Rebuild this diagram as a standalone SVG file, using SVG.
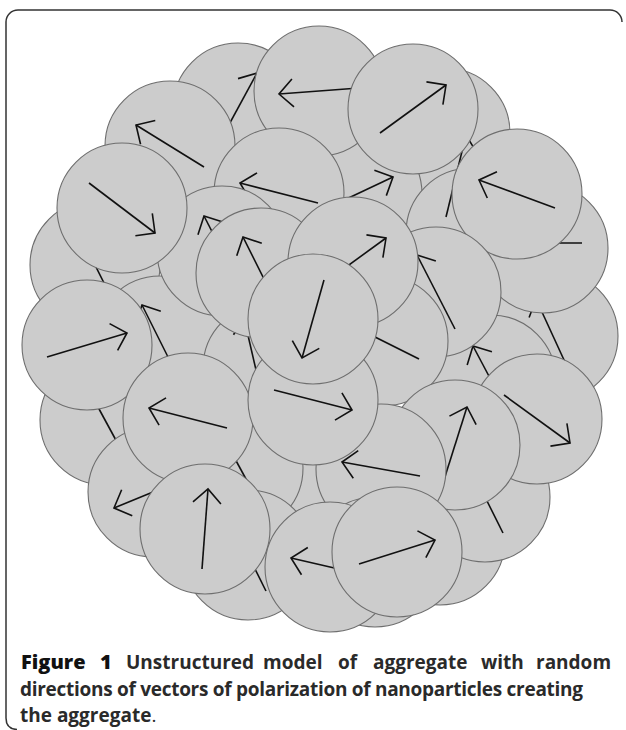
<svg xmlns="http://www.w3.org/2000/svg" width="626" height="730" viewBox="0 0 626 730">
  <defs>
    <!-- open V head for polarization vectors -->
    <marker id="head" markerUnits="userSpaceOnUse" viewBox="-16 -16 18 32" refX="0" refY="0" markerWidth="18" markerHeight="32" orient="auto" overflow="visible">
      <path d="M-14,-14 L0,0 L-14,14" fill="none" stroke="#111" stroke-width="1.6"/>
    </marker>
  </defs>
  <style>
    .p circle { fill: #cccccc; stroke: #6e6e6e; stroke-width: 1.1; }
    .p line { stroke: #111; stroke-width: 1.6; fill: none; marker-end: url(#head); }
    .frame { fill: none; stroke: #333; stroke-width: 1.5; }
    .cap { font-family: "Open Sans", "Liberation Sans", sans-serif; font-size: 19px; font-weight: 700; fill: #2a2a2a; }
    .fig { font-size: 20px; font-weight: 800; fill: #111; }
    .dot { font-weight: 400; }
  </style>

  <rect width="626" height="730" fill="#ffffff"/>
  <path class="frame" d="M6,718 L6,22 A12,12 0 0 1 18,10 L610,10 A12,12 0 0 1 622,22"/>
  <path class="frame" d="M6,718 Q6,729 17,729.5"/>

  <!-- nanoparticles, back to front -->
  <g id="particles">
    <g id="p-l0" class="p"><circle cx="95" cy="265" r="65"/><line x1="113" y1="301" x2="77" y2="229"/></g>
    <g id="p-l3" class="p"><circle cx="105" cy="420" r="65"/><line x1="86" y1="385" x2="124" y2="455"/></g>
    <g id="p-a" class="p"><circle cx="238" cy="108" r="65"/><line x1="219" y1="143" x2="257" y2="73"/></g>
    <g id="p-t3" class="p"><circle cx="445" cy="133" r="65"/></g>
    <g id="p-e" class="p"><circle cx="357" cy="194" r="65"/><line x1="321" y1="211" x2="393" y2="177"/></g>
    <g id="p-t1" class="p"><circle cx="319" cy="91" r="65"/><line x1="359" y1="88" x2="279" y2="94"/></g>
    <g id="p-b" class="p"><circle cx="170" cy="146" r="65"/><line x1="204" y1="167" x2="136" y2="125"/></g>
    <g id="p-d" class="p"><circle cx="279" cy="193" r="65"/><line x1="318" y1="203" x2="240" y2="183"/></g>
    <g id="p-l2" class="p"><circle cx="160" cy="341" r="65"/><line x1="178" y1="377" x2="142" y2="305"/></g>
    <g id="p-q1" class="p"><circle cx="222" cy="251" r="65"/><line x1="240" y1="286" x2="204" y2="216"/></g>
    <g id="p-c" class="p"><circle cx="122" cy="208" r="65"/><line x1="89" y1="183" x2="155" y2="233"/></g>
    <g id="p-m3" class="p"><circle cx="268" cy="368" r="65"/><line x1="262" y1="396" x2="244" y2="318"/></g>
    <g id="p-q2" class="p"><circle cx="261" cy="273" r="65"/><line x1="279" y1="309" x2="243" y2="237"/></g>
    <g id="p-g" class="p"><circle cx="471" cy="233" r="65"/><line x1="446" y1="217" x2="466" y2="135"/></g>
    <g id="p-t2" class="p"><circle cx="413" cy="109" r="65"/><line x1="380" y1="133" x2="446" y2="85"/></g>
    <g id="p-rv" class="p"><circle cx="553" cy="336" r="65"/><line x1="570" y1="373" x2="536" y2="299"/></g>
    <g id="p-ru" class="p"><circle cx="543" cy="248" r="65"/><line x1="582" y1="243" x2="498" y2="243"/></g>
    <g id="p-rt" class="p"><circle cx="517" cy="194" r="65"/><line x1="555" y1="208" x2="479" y2="180"/></g>
    <g id="p-rw" class="p"><circle cx="491" cy="380" r="65"/><line x1="509" y1="414" x2="473" y2="346"/></g>
    <g id="p-r3" class="p"><circle cx="436" cy="292" r="65"/><line x1="455" y1="329" x2="417" y2="255"/></g>
    <g id="p-rc" class="p"><circle cx="383" cy="341" r="65"/><line x1="419" y1="359" x2="347" y2="323"/></g>
    <g id="p-f" class="p"><circle cx="353" cy="262" r="65"/><line x1="320" y1="286" x2="386" y2="238"/></g>
    <g id="p-ry" class="p"><circle cx="440" cy="540" r="65"/></g>
    <g id="p-rx" class="p"><circle cx="485" cy="497" r="65"/><line x1="503" y1="533" x2="467" y2="461"/></g>
    <g id="p-r1" class="p"><circle cx="537" cy="419" r="65"/><line x1="504" y1="395" x2="570" y2="443"/></g>
    <g id="p-r2" class="p"><circle cx="455" cy="445" r="65"/><line x1="443" y1="483" x2="467" y2="407"/></g>
    <g id="p-m5" class="p"><circle cx="296" cy="478" r="65"/></g>
    <g id="p-n1" class="p"><circle cx="381" cy="469" r="65"/><line x1="420" y1="476" x2="342" y2="462"/></g>
    <g id="p-l1" class="p"><circle cx="87" cy="345" r="65"/><line x1="47" y1="357" x2="127" y2="333"/></g>
    <g id="p-b2" class="p"><circle cx="153" cy="492" r="65"/><line x1="192" y1="476" x2="114" y2="508"/></g>
    <g id="p-m4" class="p"><circle cx="238" cy="468" r="65"/><line x1="259" y1="503" x2="221" y2="433"/></g>
    <g id="p-m1" class="p"><circle cx="188" cy="418" r="65"/><line x1="227" y1="428" x2="149" y2="408"/></g>
    <g id="p-cl" class="p"><circle cx="313" cy="400" r="65"/><line x1="274" y1="390" x2="352" y2="410"/></g>
    <g id="p-cc" class="p"><circle cx="313" cy="319" r="65"/><line x1="324" y1="280" x2="302" y2="358"/></g>
    <g id="p-b5" class="p"><circle cx="248" cy="555" r="65"/><line x1="266" y1="591" x2="230" y2="519"/></g>
    <g id="p-b6" class="p"><circle cx="375" cy="562" r="65"/></g>
    <g id="p-b1" class="p"><circle cx="205" cy="529" r="65"/><line x1="202" y1="569" x2="208" y2="489"/></g>
    <g id="p-b3" class="p"><circle cx="330" cy="567" r="65"/><line x1="369" y1="576" x2="291" y2="558"/></g>
    <g id="p-b4" class="p"><circle cx="397" cy="552" r="65"/><line x1="359" y1="564" x2="435" y2="540"/></g>
  </g>

  <!-- caption -->
  <g id="caption" class="cap">
    <text class="fig" x="21" y="669">Figure</text>
    <text class="fig" x="100" y="669">1</text>
    <text y="669"><tspan x="126">Unstructured</tspan><tspan x="263">model</tspan><tspan x="338">of</tspan><tspan x="373">aggregate</tspan><tspan x="481">with</tspan><tspan x="536">random</tspan></text>
    <text x="20" y="696" textLength="563" lengthAdjust="spacing">directions of vectors of polarization of nanoparticles creating</text>
    <text x="20" y="722">the aggregate<tspan class="dot">.</tspan></text>
  </g>
</svg>
